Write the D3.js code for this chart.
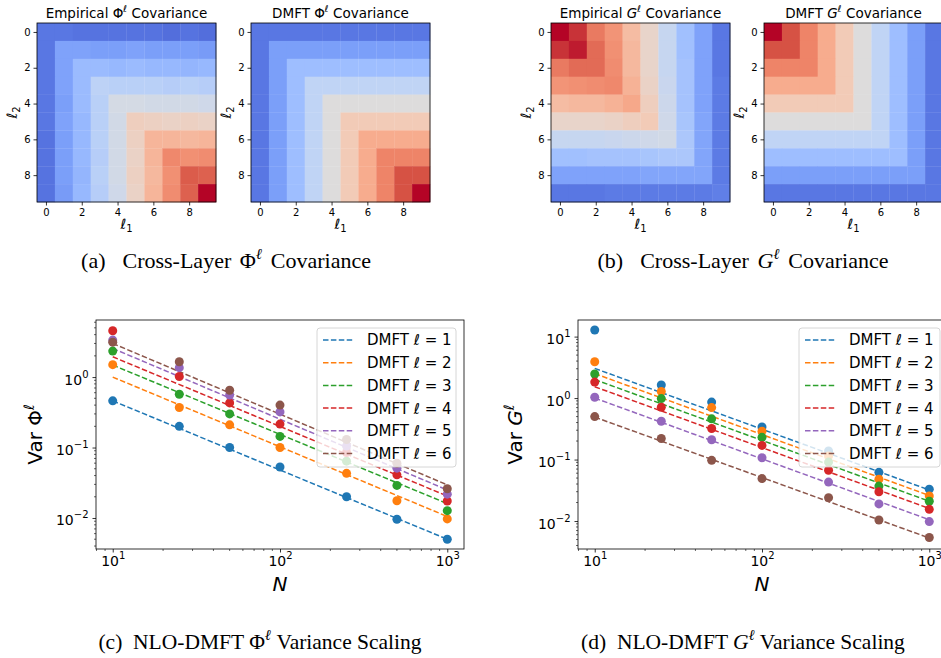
<!DOCTYPE html>
<html>
<head>
<meta charset="utf-8">
<script src="https://cdn.jsdelivr.net/npm/d3@7"></script>
<style>
  body { margin: 0; background: #fff; }
</style>
</head>
<body>
<div id="chart"></div>
<script>
const FONT = "DejaVu Sans";
const SERIF = "Liberation Serif";
const COLOR_AXIS = "#000000";
const TAB10 = ["#1f77b4", "#ff7f0e", "#2ca02c", "#d62728", "#9467bd", "#8c564b"];
const COOLWARM = ["#3b4cc0", "#5977e3", "#7b9ff9", "#9ebeff", "#c0d4f5", "#dddcdc",
                  "#f2cbb7", "#f7ac8e", "#ee8468", "#d65244", "#b40426"];

// ---- heatmap data (layer x layer, colour-normalised) ----
const layerIdx = [0, 1, 2, 3, 4, 5, 6, 7, 8, 9];
const heatTicks = [0, 2, 4, 6, 8];

const phiEmpirical = [
  [0.10, 0.10, 0.09, 0.09, 0.09, 0.09, 0.09, 0.08, 0.09, 0.08],
  [0.10, 0.21, 0.21, 0.20, 0.20, 0.21, 0.20, 0.20, 0.20, 0.19],
  [0.10, 0.21, 0.29, 0.29, 0.28, 0.29, 0.28, 0.28, 0.27, 0.28],
  [0.10, 0.21, 0.29, 0.39, 0.38, 0.38, 0.38, 0.37, 0.38, 0.37],
  [0.10, 0.20, 0.29, 0.38, 0.47, 0.47, 0.46, 0.46, 0.46, 0.45],
  [0.10, 0.21, 0.28, 0.38, 0.46, 0.58, 0.57, 0.56, 0.57, 0.56],
  [0.09, 0.20, 0.28, 0.38, 0.46, 0.57, 0.67, 0.67, 0.66, 0.67],
  [0.09, 0.20, 0.28, 0.37, 0.46, 0.56, 0.67, 0.79, 0.77, 0.78],
  [0.09, 0.20, 0.27, 0.38, 0.46, 0.57, 0.66, 0.77, 0.88, 0.87],
  [0.09, 0.19, 0.28, 0.37, 0.45, 0.56, 0.67, 0.78, 0.87, 1.00]
];
const phiDmft = [
  [0.1, 0.1, 0.1, 0.1, 0.1, 0.1, 0.1, 0.1, 0.1, 0.1],
  [0.1, 0.2, 0.2, 0.2, 0.2, 0.2, 0.2, 0.2, 0.2, 0.2],
  [0.1, 0.2, 0.3, 0.3, 0.3, 0.3, 0.3, 0.3, 0.3, 0.3],
  [0.1, 0.2, 0.3, 0.4, 0.4, 0.4, 0.4, 0.4, 0.4, 0.4],
  [0.1, 0.2, 0.3, 0.4, 0.5, 0.5, 0.5, 0.5, 0.5, 0.5],
  [0.1, 0.2, 0.3, 0.4, 0.5, 0.6, 0.6, 0.6, 0.6, 0.6],
  [0.1, 0.2, 0.3, 0.4, 0.5, 0.6, 0.7, 0.7, 0.7, 0.7],
  [0.1, 0.2, 0.3, 0.4, 0.5, 0.6, 0.7, 0.8, 0.8, 0.8],
  [0.1, 0.2, 0.3, 0.4, 0.5, 0.6, 0.7, 0.8, 0.9, 0.9],
  [0.1, 0.2, 0.3, 0.4, 0.5, 0.6, 0.7, 0.8, 0.9, 1.0]
];
const gEmpirical = [
  [1.00, 0.94, 0.82, 0.76, 0.65, 0.55, 0.42, 0.31, 0.21, 0.10],
  [0.94, 0.97, 0.85, 0.77, 0.66, 0.55, 0.42, 0.31, 0.21, 0.10],
  [0.82, 0.85, 0.85, 0.78, 0.66, 0.55, 0.42, 0.32, 0.21, 0.10],
  [0.76, 0.77, 0.78, 0.79, 0.68, 0.56, 0.43, 0.32, 0.21, 0.11],
  [0.65, 0.66, 0.66, 0.68, 0.71, 0.58, 0.44, 0.32, 0.21, 0.11],
  [0.55, 0.55, 0.55, 0.56, 0.58, 0.60, 0.45, 0.33, 0.22, 0.11],
  [0.42, 0.42, 0.42, 0.43, 0.44, 0.45, 0.46, 0.34, 0.22, 0.11],
  [0.31, 0.31, 0.32, 0.32, 0.32, 0.33, 0.34, 0.34, 0.22, 0.11],
  [0.21, 0.21, 0.21, 0.21, 0.21, 0.22, 0.22, 0.22, 0.22, 0.11],
  [0.10, 0.10, 0.10, 0.11, 0.11, 0.11, 0.11, 0.11, 0.11, 0.12]
];
const gDmft = [
  [1.0, 0.9, 0.8, 0.7, 0.6, 0.5, 0.4, 0.3, 0.2, 0.1],
  [0.9, 0.9, 0.8, 0.7, 0.6, 0.5, 0.4, 0.3, 0.2, 0.1],
  [0.8, 0.8, 0.8, 0.7, 0.6, 0.5, 0.4, 0.3, 0.2, 0.1],
  [0.7, 0.7, 0.7, 0.7, 0.6, 0.5, 0.4, 0.3, 0.2, 0.1],
  [0.6, 0.6, 0.6, 0.6, 0.6, 0.5, 0.4, 0.3, 0.2, 0.1],
  [0.5, 0.5, 0.5, 0.5, 0.5, 0.5, 0.4, 0.3, 0.2, 0.1],
  [0.4, 0.4, 0.4, 0.4, 0.4, 0.4, 0.4, 0.3, 0.2, 0.1],
  [0.3, 0.3, 0.3, 0.3, 0.3, 0.3, 0.3, 0.3, 0.2, 0.1],
  [0.2, 0.2, 0.2, 0.2, 0.2, 0.2, 0.2, 0.2, 0.2, 0.1],
  [0.1, 0.1, 0.1, 0.1, 0.1, 0.1, 0.1, 0.1, 0.1, 0.1]
];

// ---- variance scaling data ----
const widths = [10, 25, 50, 100, 250, 500, 1000];
const layers = [1, 2, 3, 4, 5, 6];
const dmftN = [10, 1000];
const phiVar = [
  [0.46, 0.20, 0.10, 0.053, 0.020, 0.0096, 0.0050],
  [1.50, 0.37, 0.21, 0.10, 0.043, 0.0176, 0.0097],
  [2.34, 0.57, 0.30, 0.144, 0.064, 0.029, 0.0127],
  [4.54, 1.02, 0.43, 0.215, 0.085, 0.041, 0.0174],
  [3.35, 1.36, 0.556, 0.32, 0.105, 0.051, 0.0218],
  [3.13, 1.65, 0.65, 0.40, 0.13, 0.060, 0.026]
];
const phiVarDmft = [
  [0.46, 0.0050], [1.0, 0.0105], [1.48, 0.0160],
  [1.94, 0.0205], [2.55, 0.0250], [3.0, 0.0295]
];
const gVar = [
  [12.8, 1.63, 0.86, 0.34, 0.138, 0.062, 0.033],
  [3.9, 1.28, 0.70, 0.29, 0.114, 0.048, 0.0256],
  [2.46, 0.98, 0.46, 0.23, 0.091, 0.037, 0.021],
  [1.82, 0.71, 0.32, 0.17, 0.067, 0.030, 0.0155],
  [1.03, 0.42, 0.21, 0.107, 0.043, 0.019, 0.0098],
  [0.50, 0.22, 0.097, 0.049, 0.024, 0.0104, 0.0054]
];
const gVarDmft = [
  [3.04, 0.032], [2.5, 0.026], [2.0, 0.021],
  [1.53, 0.016], [1.0, 0.0105], [0.49, 0.0053]
];

const svg = d3.select("#chart").append("svg")
  .attr("width", 941).attr("height", 658)
  .attr("font-family", FONT);

const colorScale = d3.scaleLinear().domain([0, 1]).clamp(true)
  .interpolate(() => d3.piecewise(d3.interpolateRgb, COOLWARM));

// title / caption text with a symbol and superscript ell
function mathText(g, parts, size) {
  // parts: [prefix, symbol, symbolItalic, suffix]
  let t = g.append("text").attr("font-size", size);
  t.append("tspan").text(parts[0]);
  t.append("tspan").text(parts[1]).attr("font-style", parts[2] ? "italic" : null);
  t.append("tspan").text("ℓ").attr("font-size", size * 0.7).attr("dy", -size * 0.42)
    .attr("font-style", "italic");
  t.append("tspan").text(parts[3]).attr("dy", size * 0.42);
  return t;
}

function drawHeatmap(mat, x0, y0, size, titleParts) {
  let g = svg.append("g");
  let x = d3.scaleLinear().domain([-0.5, 9.5]).range([x0, x0 + size]);
  let y = d3.scaleLinear().domain([-0.5, 9.5]).range([y0, y0 + size]);

  mat.forEach((row, i) => {
    g.selectAll(null).data(row).enter().append("rect")
      .attr("x", (d, j) => x(j - 0.5))
      .attr("y", y(i - 0.5))
      .attr("width", (d, j) => x(j + 0.5) - x(j - 0.5) + 0.3)
      .attr("height", y(i + 0.5) - y(i - 0.5) + 0.3)
      .attr("fill", d => colorScale(d));
  });

  g.append("rect")
    .attr("x", x0).attr("y", y0).attr("width", size).attr("height", size)
    .attr("fill", "none").attr("stroke", COLOR_AXIS).attr("stroke-width", 0.8);

  let axX = d3.axisBottom(x).tickValues(heatTicks).tickSize(3.5).tickPadding(3).tickFormat(d3.format("d"));
  let axY = d3.axisLeft(y).tickValues(heatTicks).tickSize(3.5).tickPadding(3).tickFormat(d3.format("d"));
  g.append("g").attr("transform", `translate(0,${y0 + size})`).call(axX)
    .call(a => {
      a.select(".domain").remove();
      a.attr("font-size", 10).attr("font-family", FONT);
      a.selectAll("line").attr("stroke-width", 0.8);
    });
  g.append("g").attr("transform", `translate(${x0},0)`).call(axY)
    .call(a => {
      a.select(".domain").remove();
      a.attr("font-size", 10).attr("font-family", FONT);
      a.selectAll("line").attr("stroke-width", 0.8);
    });

  // axis labels
  let lx = g.append("text").attr("x", x0 + size / 2).attr("y", y0 + size + 27)
    .attr("text-anchor", "middle").attr("font-size", 14).attr("font-style", "italic");
  lx.append("tspan").text("ℓ");
  lx.append("tspan").text("1").attr("font-size", 10).attr("dy", 3).attr("font-style", "normal");
  let ly = g.append("text")
    .attr("transform", `translate(${x0 - 20},${y0 + size / 2}) rotate(-90)`)
    .attr("text-anchor", "middle").attr("font-size", 14).attr("font-style", "italic");
  ly.append("tspan").text("ℓ");
  ly.append("tspan").text("2").attr("font-size", 10).attr("dy", 3).attr("font-style", "normal");

  let t = mathText(g, titleParts, 13.5);
  t.attr("x", x0 + size / 2).attr("y", y0 - 5).attr("text-anchor", "middle");
}

drawHeatmap(phiEmpirical, 37, 23, 179, ["Empirical ", "Φ", false, " Covariance"]);
drawHeatmap(phiDmft, 251, 23, 179, ["DMFT ", "Φ", false, " Covariance"]);
drawHeatmap(gEmpirical, 551, 23, 179, ["Empirical ", "G", true, " Covariance"]);
drawHeatmap(gDmft, 764, 23, 179, ["DMFT ", "G", true, " Covariance"]);

function supLabel(sel, exp) {
  sel.text("");
  sel.append("tspan").text("10");
  sel.append("tspan").text(exp < 0 ? "\u2212" + (-exp) : exp)
    .attr("font-size", 10).attr("dy", -7);
}

function drawScaling(panel) {
  let g = svg.append("g");
  let x = d3.scaleLog().domain([Math.pow(10, 0.9), Math.pow(10, 3.1)])
    .range([panel.left, panel.right]);
  let y = d3.scaleLog().domain(panel.yDomain).range([panel.bottom, panel.top]);

  let clip = "clip" + panel.id;
  g.append("clipPath").attr("id", clip).append("rect")
    .attr("x", panel.left).attr("y", panel.top)
    .attr("width", panel.right - panel.left).attr("height", panel.bottom - panel.top);

  let plot = g.append("g").attr("clip-path", `url(#${clip})`);
  let line = d3.line().x(d => x(d[0])).y(d => y(d[1]));

  // DMFT prediction lines
  panel.dmft.forEach((vals, k) => {
    plot.append("path")
      .attr("d", line(dmftN.map((n, i) => [n, vals[i]])))
      .attr("fill", "none").attr("stroke", TAB10[k]).attr("stroke-width", 1.5)
      .attr("stroke-dasharray", "5.5,2.4");
  });
  // empirical points
  panel.points.forEach((vals, k) => {
    plot.selectAll(null).data(vals).enter().append("circle")
      .attr("cx", (d, i) => x(widths[i]))
      .attr("cy", d => y(d))
      .attr("r", 4.5)
      .attr("fill", TAB10[k]);
  });

  // minor ticks
  let minorX = [], minorY = [];
  for (let e = 0; e < 4; e++) for (let m = 2; m < 10; m++) minorX.push(m * Math.pow(10, e));
  for (let e = -3; e < 2; e++) for (let m = 2; m < 10; m++) minorY.push(m * Math.pow(10, e));
  let xd = x.domain(), yd = y.domain();
  minorX = minorX.filter(v => v > xd[0] && v < xd[1]);
  minorY = minorY.filter(v => v > yd[0] && v < yd[1]);

  g.selectAll(null).data(minorX).enter().append("line")
    .attr("x1", d => x(d)).attr("x2", d => x(d))
    .attr("y1", panel.bottom).attr("y2", panel.bottom + 2)
    .attr("stroke", COLOR_AXIS).attr("stroke-width", 0.6);
  g.selectAll(null).data(minorY).enter().append("line")
    .attr("x1", panel.left).attr("x2", panel.left - 2)
    .attr("y1", d => y(d)).attr("y2", d => y(d))
    .attr("stroke", COLOR_AXIS).attr("stroke-width", 0.6);

  let axX = d3.axisBottom(x).tickValues([10, 100, 1000]).tickSize(3.5).tickPadding(4);
  g.append("g").attr("transform", `translate(0,${panel.bottom})`).call(axX)
    .call(a => {
      a.select(".domain").remove();
      a.attr("font-size", 14).attr("font-family", FONT);
      a.selectAll("line").attr("stroke-width", 0.8);
      a.selectAll("text").each(function (d) { supLabel(d3.select(this), Math.round(Math.log10(d))); })
        .attr("dy", "0.71em");
    });
  let axY = d3.axisLeft(y).tickValues(panel.yMajor).tickSize(3.5).tickPadding(4);
  g.append("g").attr("transform", `translate(${panel.left},0)`).call(axY)
    .call(a => {
      a.select(".domain").remove();
      a.attr("font-size", 14).attr("font-family", FONT);
      a.selectAll("line").attr("stroke-width", 0.8);
      a.selectAll("text").each(function (d) { supLabel(d3.select(this), Math.round(Math.log10(d))); })
        .attr("dy", "0.5em");
    });

  g.append("rect")
    .attr("x", panel.left).attr("y", panel.top)
    .attr("width", panel.right - panel.left).attr("height", panel.bottom - panel.top)
    .attr("fill", "none").attr("stroke", COLOR_AXIS).attr("stroke-width", 0.8);

  // legend
  let lg = g.append("g").attr("transform", `translate(${panel.legendX},${panel.top + 8})`);
  lg.append("rect").attr("width", panel.legendW).attr("height", 139).attr("rx", 3)
    .attr("fill", "#fff").attr("fill-opacity", 0.8)
    .attr("stroke", "#cccccc").attr("stroke-width", 0.8);
  layers.forEach((l, k) => {
    let yy = 12 + k * 22.7;
    lg.append("line").attr("x1", 6).attr("x2", 37).attr("y1", yy).attr("y2", yy)
      .attr("stroke", TAB10[k]).attr("stroke-width", 1.5).attr("stroke-dasharray", "5.5,2.4");
    let t = lg.append("text").attr("x", panel.legendText).attr("y", yy).attr("dy", "0.36em")
      .attr("font-size", 15);
    t.append("tspan").text("DMFT ");
    t.append("tspan").text("ℓ").attr("font-style", "italic");
    t.append("tspan").text(" = " + l);
  });

  // axis labels
  let ly = g.append("text")
    .attr("transform", `translate(${panel.ylabelX},${(panel.top + panel.bottom) / 2}) rotate(-90)`)
    .attr("text-anchor", "middle").attr("font-size", 20);
  ly.append("tspan").text("Var ");
  ly.append("tspan").text(panel.sym).attr("font-style", panel.symItalic ? "italic" : null);
  ly.append("tspan").text("ℓ").attr("font-size", 14).attr("dy", -8).attr("font-style", "italic");

  g.append("text").attr("x", panel.xlabelX).attr("y", 591)
    .attr("text-anchor", "middle").attr("font-size", 20).attr("font-style", "italic").text("N");
}

drawScaling({
  id: "c", left: 96, right: 464, top: 320, bottom: 549,
  yDomain: [Math.pow(10, -2.44), Math.pow(10, 0.81)], yMajor: [0.01, 0.1, 1],
  points: phiVar, dmft: phiVarDmft,
  legendX: 317, legendW: 139, legendText: 50,
  sym: "Φ", symItalic: false, ylabelX: 42, xlabelX: 280
});
drawScaling({
  id: "d", left: 578, right: 946, top: 320, bottom: 549,
  yDomain: [Math.pow(10, -2.455), Math.pow(10, 1.27)], yMajor: [0.01, 0.1, 1, 10],
  points: gVar, dmft: gVarDmft,
  legendX: 799, legendW: 141, legendText: 50,
  sym: "G", symItalic: true, ylabelX: 522, xlabelX: 762
});

// captions
const captions = [
  { x: 226, y: 268, size: 22, ws: 3, parts: ["(a)  Cross-Layer ", "Φ", false, " Covariance"] },
  { x: 743, y: 268, size: 22, ws: 3, parts: ["(b)  Cross-Layer ", "G", true, " Covariance"] },
  { x: 260, y: 649, size: 21.5, ws: 0, parts: ["(c)  NLO-DMFT ", "Φ", false, " Variance Scaling"] },
  { x: 743, y: 649, size: 21.5, ws: 0, parts: ["(d)  NLO-DMFT ", "G", true, " Variance Scaling"] }
];
captions.forEach(c => {
  let t = mathText(svg, c.parts, c.size);
  t.attr("x", c.x).attr("y", c.y).attr("text-anchor", "middle")
    .attr("font-family", SERIF).attr("word-spacing", c.ws).style("white-space", "pre");
});
</script>
</body>
</html>
